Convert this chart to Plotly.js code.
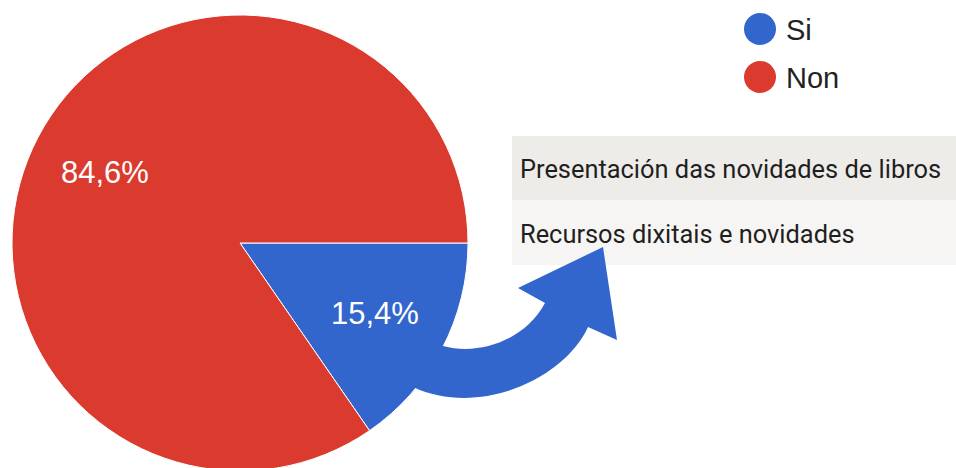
<!DOCTYPE html>
<html>
<head>
<meta charset="utf-8">
<script src="https://cdn.plot.ly/plotly-3.0.1.min.js"></script>
<style>
html, body { margin: 0; padding: 0; overflow: hidden; background: #ffffff; }
#chart { width: 956px; height: 486px; }
</style>
</head>
<body>
<div id="chart"></div>
<script>
// Data
var labels = ["Si", "Non"];
var values = [2, 11];
var colors = ["#3366cc", "#db3a2f"];
var boxRows = ["Presentación das novidades de libros", "Recursos dixitais e novidades"];

var W = 956, H = 486;
var pieCx = 240, pieCy = 243, pieR = 228;

var pie = {
  type: "pie",
  labels: labels,
  values: values,
  sort: false,
  direction: "clockwise",
  rotation: 90,
  marker: { colors: colors, line: { color: "#ffffff", width: 1 } },
  textinfo: "none",
  hoverinfo: "none",
  showlegend: false,
  domain: { x: [(pieCx - pieR) / W, (pieCx + pieR) / W], y: [(H - pieCy - pieR) / H, (H - pieCy + pieR) / H] }
};

var shapes = [];
var annotations = [];

// Percent labels placed at slice mid-angles derived from the values
var total = values.reduce(function (a, b) { return a + b; }, 0);
var cum = 0;
values.forEach(function (v, i) {
  var mid = (cum + v / 2) / total * 2 * Math.PI; // clockwise from 3 o'clock
  cum += v;
  var r = pieR * 0.667;
  annotations.push({
    xref: "x", yref: "y",
    x: pieCx + r * Math.cos(mid), y: pieCy + r * Math.sin(mid),
    text: (v / total * 100).toFixed(1).replace(".", ",") + "%",
    showarrow: false, xanchor: "center", yanchor: "middle",
    font: { family: "Liberation Sans, Arial, sans-serif", size: 31, color: "#ffffff" }
  });
});

// Legend (built from labels / colors)
var legX = 760, legY0 = 29, legStep = 48, legR = 16;
labels.forEach(function (lab, i) {
  var cy = legY0 + i * legStep;
  shapes.push({
    type: "circle", xref: "x", yref: "y",
    x0: legX - legR, x1: legX + legR, y0: cy - legR, y1: cy + legR,
    fillcolor: colors[i], line: { width: 0 }, layer: "above"
  });
  annotations.push({
    xref: "x", yref: "y", x: legX + 24, y: cy + 1, text: lab,
    showarrow: false, xanchor: "left", yanchor: "middle",
    font: { family: "Liberation Sans, Arial, sans-serif", size: 29, color: "#222222" }
  });
});

// Grey box with rows
var rowFills = ["#eeece9", "#f6f5f3"];
var boxTop = 136, rowH = 64.5;
boxRows.forEach(function (t, i) {
  var y0 = boxTop + i * rowH;
  shapes.push({
    type: "rect", xref: "x", yref: "y",
    x0: 512, x1: 960, y0: y0, y1: y0 + rowH,
    fillcolor: rowFills[i], line: { width: 0 }, layer: "below"
  });
  annotations.push({
    xref: "x", yref: "y", x: 518, y: y0 + rowH / 2 + 1, text: t,
    showarrow: false, xanchor: "left", yanchor: "middle",
    font: { family: "Roboto, Arial, sans-serif", size: 25.4, color: "#1f1f1f" }
  });
});

// Curved arrow from the blue slice to the box
shapes.push({
  type: "path", xref: "x", yref: "y", layer: "above",
  path: "M 420 352 L 443 346 C 480 356, 525 340, 545 303 L 518 288 L 603 247 L 617 340 L 588 327 C 565 378, 480 418, 413 387 Z",
  fillcolor: "#3366cc", line: { width: 0 }
});

var layout = {
  width: W, height: H,
  margin: { l: 0, r: 0, t: 0, b: 0, pad: 0 },
  paper_bgcolor: "#ffffff",
  plot_bgcolor: "rgba(0,0,0,0)",
  showlegend: false,
  xaxis: { range: [0, W], visible: false, fixedrange: true, domain: [0, 1] },
  yaxis: { range: [H, 0], visible: false, fixedrange: true, domain: [0, 1] },
  shapes: shapes,
  annotations: annotations
};

Plotly.newPlot("chart", [pie], layout, { displayModeBar: false, staticPlot: true });
</script>
</body>
</html>
